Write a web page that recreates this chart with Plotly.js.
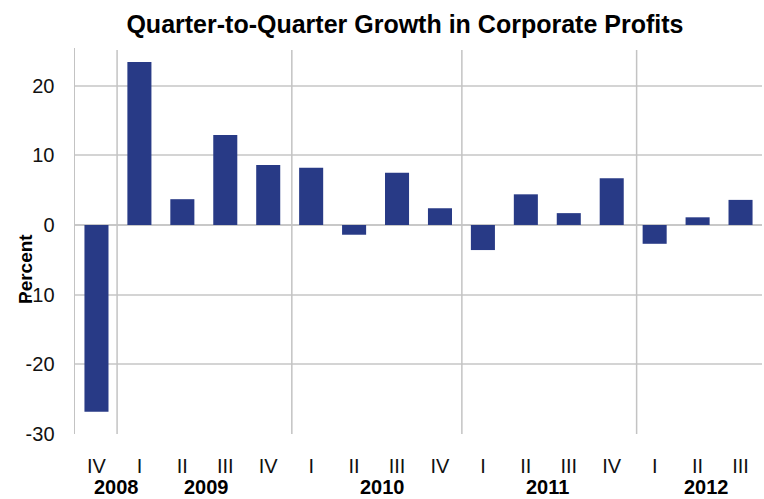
<!DOCTYPE html>
<html>
<head>
<meta charset="utf-8">
<script src="https://cdn.plot.ly/plotly-3.0.1.min.js"></script>
<style>html,body{margin:0;padding:0;background:#fff;}#chart{width:764px;height:499px;}</style>
</head>
<body>
<div id="chart"></div>
<script>
// Data
const quarters = ["IV","I","II","III","IV","I","II","III","IV","I","II","III","IV","I","II","III"];
const years = ["2008","2009","2010","2011","2012"];
const growth = [-26.8, 23.4, 3.7, 12.9, 8.6, 8.2, -1.4, 7.5, 2.4, -3.6, 4.4, 1.7, 6.7, -2.7, 1.1, 3.6];
const yTickVals = [-30, -20, -10, 0, 10, 20];
const yTickText = ["-30", "-20", "-10", "0", "10", "20"];
const yearLabelPos = [0.47, 2.56, 6.67, 10.5, 14.2];
const yearBoundaries = [0.48, 4.55, 8.51, 12.58];

const xIdx = quarters.map((q, i) => i);
const FONT = 'Liberation Sans, Arial, sans-serif';

const trace = {
  type: 'bar',
  x: xIdx,
  y: growth,
  marker: {color: '#283a86', line: {width: 0}},
  width: 0.56,
  hoverinfo: 'y'
};

const shapes = yearBoundaries.map(b => ({
  type: 'line', xref: 'x', yref: 'paper', x0: b, x1: b, y0: 0, y1: 0.995,
  line: {color: '#c3c3c3', width: 1.5}
}));

const annotations = years.map((yr, i) => ({
  text: '<b>' + yr + '</b>', xref: 'x', yref: 'paper', x: yearLabelPos[i], y: -0.138,
  xanchor: 'center', yanchor: 'middle', showarrow: false, borderpad: 0,
  font: {family: FONT, size: 20, color: '#000'}
}));
annotations.push({
  text: '<b>Percent</b>', xref: 'paper', yref: 'paper', x: -0.073, y: 0.427,
  textangle: -90, xanchor: 'center', yanchor: 'middle', showarrow: false, borderpad: 0,
  font: {family: FONT, size: 19, color: '#000'}
});

const layout = {
  width: 764, height: 499,
  margin: {l: 75, r: 2, t: 48, b: 65},
  paper_bgcolor: '#fff', plot_bgcolor: '#fff',
  showlegend: false,
  title: {
    text: '<b>Quarter-to-Quarter Growth in Corporate Profits</b>',
    x: 0.53, xanchor: 'center', y: 0.952, yanchor: 'middle',
    font: {family: FONT, size: 25, color: '#000'}
  },
  xaxis: {
    range: [-0.5, 15.5],
    tickvals: xIdx, ticktext: quarters,
    showgrid: false, zeroline: false, showline: false,
    ticks: '', ticklabelstandoff: 18,
    tickfont: {family: FONT, size: 20, color: '#111'},
    fixedrange: true
  },
  yaxis: {
    range: [-30, 25.4],
    tickvals: yTickVals, ticktext: yTickText,
    showgrid: true, gridcolor: '#d4d4d4', gridwidth: 2,
    zeroline: true, zerolinecolor: '#c8c8c8', zerolinewidth: 2,
    showline: true, linecolor: '#c3c3c3', linewidth: 1.5,
    ticks: '', ticklabelstandoff: 15,
    tickfont: {family: FONT, size: 20, color: '#111'},
    fixedrange: true
  },
  shapes: shapes,
  annotations: annotations,
  bargap: 0.44
};

Plotly.newPlot('chart', [trace], layout, {displayModeBar: false, staticPlot: true});
</script>
</body>
</html>
